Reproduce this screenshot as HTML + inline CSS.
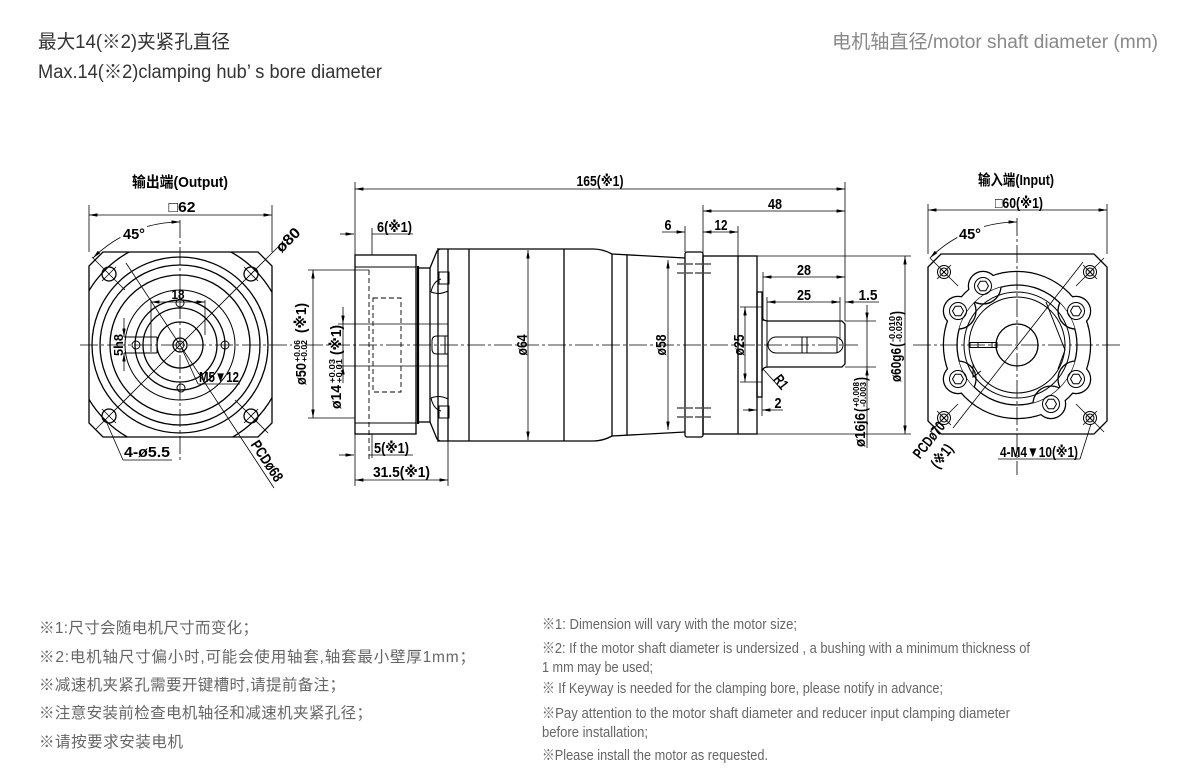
<!DOCTYPE html>
<html><head><meta charset="utf-8">
<style>
html,body{margin:0;padding:0;background:#fff;width:1181px;height:782px;overflow:hidden}
svg{display:block}
.o{fill:none;stroke:#000;stroke-width:1.3}
.t{fill:none;stroke:#000;stroke-width:1}
.d{fill:none;stroke:#000;stroke-width:0.8}
.c{fill:none;stroke:#000;stroke-width:0.8;stroke-dasharray:18 3 3 3}
.h{fill:none;stroke:#000;stroke-width:0.9;stroke-dasharray:5 3}
.l{font-family:"Liberation Sans","DejaVu Sans","Noto Sans CJK SC",sans-serif;font-weight:bold;font-size:15px;fill:#000}
.m{font-family:"Liberation Sans","DejaVu Sans","Noto Sans CJK SC",sans-serif;font-weight:bold;font-size:13px;fill:#000}
.s{font-family:"Liberation Sans",sans-serif;font-weight:bold;font-size:8px;fill:#000}
.hd{font-family:"Liberation Sans","Noto Sans CJK SC",sans-serif;font-size:19px}
.fl{font-family:"Liberation Sans","Noto Sans CJK SC",sans-serif;font-size:15.5px;fill:#666}
.fr{font-family:"Liberation Sans","Noto Sans CJK SC",sans-serif;font-size:15px;fill:#666}
</style></head><body>
<svg width="1181" height="782" viewBox="0 0 1181 782" xmlns="http://www.w3.org/2000/svg">
<defs>
<marker id="a" viewBox="0 0 10 4" refX="10" refY="2" markerWidth="9" markerHeight="3.4" markerUnits="userSpaceOnUse" orient="auto-start-reverse"><path d="M0,0L10,2L0,4z" fill="#000"/></marker>
<clipPath id="sqL"><polygon points="103,252 258,252 272,266 272,423 258,437 103,437 89,423 89,266"/></clipPath>
<clipPath id="in60"><circle cx="1017" cy="345" r="60"/></clipPath>
</defs>

<!-- HEADER -->
<text class="hd" x="38" y="48" fill="#333" textLength="192" lengthAdjust="spacingAndGlyphs">最大14(※2)夹紧孔直径</text>
<text class="hd" x="38" y="78" fill="#333" textLength="344" lengthAdjust="spacingAndGlyphs">Max.14(※2)clamping hub’ s bore diameter</text>
<text class="hd" x="832" y="48" fill="#888" textLength="326" lengthAdjust="spacingAndGlyphs">电机轴直径/motor shaft diameter (mm)</text>

<!-- ============ LEFT VIEW (OUTPUT) ============ -->
<text class="l" x="180" y="187" text-anchor="middle" textLength="96" lengthAdjust="spacingAndGlyphs">输出端(Output)</text>
<text class="l" x="182" y="212" text-anchor="middle" textLength="27" lengthAdjust="spacingAndGlyphs">□62</text>
<line class="d" x1="89" y1="215" x2="272" y2="215" marker-start="url(#a)" marker-end="url(#a)"/>
<line class="d" x1="89" y1="205" x2="89" y2="252"/>
<line class="d" x1="272" y1="205" x2="272" y2="252"/>
<path class="d" d="M93,258 A123,123 0 0 1 120.4,237.4" marker-start="url(#a)"/>
<path class="d" d="M147,226.5 A123,123 0 0 1 180,222" marker-end="url(#a)"/>
<text class="l" x="134" y="239" text-anchor="middle" textLength="22" lengthAdjust="spacingAndGlyphs">45°</text>

<polygon class="o" points="103,252 258,252 272,266 272,423 258,437 103,437 89,423 89,266"/>
<g clip-path="url(#sqL)"><circle class="o" cx="180" cy="345" r="106"/></g>
<circle class="o" cx="180" cy="345" r="88"/>
<circle class="o" cx="180" cy="345" r="80"/>
<circle class="o" cx="180" cy="345" r="70"/>
<circle class="t" cx="180" cy="345" r="55"/>
<circle class="o" cx="180" cy="345" r="45"/>
<circle class="o" cx="180" cy="345" r="37"/>
<circle class="o" cx="180" cy="345" r="23"/>
<circle class="o" cx="180" cy="345" r="7"/>
<circle class="t" cx="180" cy="345" r="4"/>
<!-- corner holes -->
<circle class="o" cx="109" cy="274" r="7"/>
<circle class="o" cx="251" cy="274" r="7"/>
<circle class="o" cx="109" cy="416" r="7"/>
<circle class="o" cx="251" cy="416" r="7"/>
<line class="d" x1="92" y1="257" x2="125" y2="290"/>
<line class="d" x1="102" y1="281" x2="116" y2="267"/>
<line class="d" x1="268" y1="433" x2="235" y2="400"/>
<line class="d" x1="244" y1="423" x2="258" y2="409"/>
<line class="d" x1="244" y1="267" x2="258" y2="281"/>
<line class="d" x1="102" y1="409" x2="116" y2="423"/>
<!-- small holes -->
<circle class="t" cx="136" cy="345" r="4"/>
<circle class="t" cx="225" cy="345" r="4"/>
<circle class="t" cx="181" cy="388" r="4"/>
<circle class="t" cx="180" cy="303" r="4"/>
<!-- 18 dim -->
<line class="d" x1="151" y1="302" x2="205" y2="302" marker-start="url(#a)" marker-end="url(#a)"/>
<line class="d" x1="151" y1="300" x2="151" y2="352"/>
<line class="d" x1="205" y1="300" x2="205" y2="335"/>
<text class="m" x="178" y="299" text-anchor="middle" textLength="13" lengthAdjust="spacingAndGlyphs">18</text>
<!-- 5h8 key -->
<line class="t" x1="124" y1="337" x2="157" y2="337"/>
<line class="t" x1="124" y1="353" x2="157" y2="353"/>
<line class="t" x1="157" y1="337" x2="157" y2="353"/>
<line class="d" x1="124" y1="318" x2="124" y2="337" marker-end="url(#a)"/>
<line class="d" x1="124" y1="371" x2="124" y2="353" marker-end="url(#a)"/>
<g transform="translate(118,345) rotate(-90)"><text class="m" x="0" y="5" text-anchor="middle" textLength="22" lengthAdjust="spacingAndGlyphs">5h8</text></g>
<!-- diag leader Ø80 -->
<line class="d" x1="283" y1="242" x2="96" y2="429"/>
<g transform="translate(288,240) rotate(-45)"><text class="l" x="0" y="5" text-anchor="middle" textLength="28" lengthAdjust="spacingAndGlyphs">ø80</text></g>
<!-- PCD leader -->
<line class="d" x1="126" y1="263" x2="274" y2="488"/>
<g transform="translate(267,461) rotate(56.7)"><text class="l" x="0" y="5" text-anchor="middle" textLength="46" lengthAdjust="spacingAndGlyphs">PCDø68</text></g>
<!-- M5 -->
<line class="d" x1="182" y1="349" x2="198" y2="384"/>
<line class="d" x1="198" y1="384" x2="240" y2="384"/>
<text class="l" x="219" y="382" text-anchor="middle" textLength="40" lengthAdjust="spacingAndGlyphs">M5▼12</text>
<!-- 4-ø5.5 -->
<line class="d" x1="106" y1="421" x2="123" y2="460"/>
<line class="d" x1="123" y1="460" x2="172" y2="460"/>
<text class="l" x="147" y="457" text-anchor="middle" textLength="46" lengthAdjust="spacingAndGlyphs">4-ø5.5</text>
<!-- centerlines -->
<line class="c" x1="80" y1="345" x2="292" y2="345"/>
<line class="c" x1="180" y1="220" x2="180" y2="462"/>

<!-- ============ MIDDLE VIEW ============ -->
<line class="d" x1="355" y1="189" x2="845" y2="189" marker-start="url(#a)" marker-end="url(#a)"/>
<text class="l" x="600" y="186" text-anchor="middle" textLength="47" lengthAdjust="spacingAndGlyphs">165(※1)</text>
<line class="d" x1="355" y1="182" x2="355" y2="486"/>
<line class="d" x1="845" y1="182" x2="845" y2="321"/>
<!-- 6(※1) -->
<line class="d" x1="340" y1="234" x2="354" y2="234" marker-end="url(#a)"/>
<line class="d" x1="372" y1="234" x2="413" y2="234"/>
<line class="d" x1="372" y1="228" x2="372" y2="255"/>
<text class="l" x="377" y="232" textLength="35" lengthAdjust="spacingAndGlyphs">6(※1)</text>
<!-- 5(※1) -->
<line class="d" x1="339" y1="455" x2="354" y2="455" marker-end="url(#a)"/>
<line class="d" x1="369" y1="455" x2="413" y2="455"/>
<line class="d" x1="372" y1="434" x2="372" y2="458"/>
<text class="l" x="374" y="453" textLength="35" lengthAdjust="spacingAndGlyphs">5(※1)</text>
<!-- 31.5 -->
<line class="d" x1="355" y1="480" x2="448" y2="480" marker-start="url(#a)" marker-end="url(#a)"/>
<line class="d" x1="448" y1="322" x2="448" y2="486"/>
<text class="l" x="373" y="477" textLength="57" lengthAdjust="spacingAndGlyphs">31.5(※1)</text>
<!-- flange -->
<rect class="o" x="355" y="255" width="61" height="179"/>
<line class="t" x1="355" y1="267" x2="416" y2="267"/>
<line class="t" x1="355" y1="423" x2="416" y2="423"/>
<rect class="h" x="373" y="298" width="28" height="94"/>
<line class="h" x1="369" y1="270" x2="369" y2="460"/>
<!-- ø50 -->
<line class="d" x1="313" y1="270" x2="313" y2="418" marker-start="url(#a)" marker-end="url(#a)"/>
<line class="d" x1="308" y1="270" x2="369" y2="270"/>
<line class="d" x1="308" y1="418" x2="355" y2="418"/>
<g transform="translate(301,345) rotate(-90)">
<text class="l" x="-40" y="5" textLength="22" lengthAdjust="spacingAndGlyphs">ø50</text>
<text class="s" x="-17" y="-1" textLength="22" lengthAdjust="spacingAndGlyphs">+0.06</text>
<text class="s" x="-17" y="6" textLength="22" lengthAdjust="spacingAndGlyphs">+0.02</text>
<text class="l" x="12" y="5" textLength="30" lengthAdjust="spacingAndGlyphs">(※1)</text>
</g>
<!-- ø14 -->
<line class="d" x1="338" y1="324" x2="448" y2="324"/>
<line class="d" x1="338" y1="366" x2="448" y2="366"/>
<line class="d" x1="343" y1="307" x2="343" y2="324" marker-end="url(#a)"/>
<line class="d" x1="343" y1="383" x2="343" y2="366" marker-end="url(#a)"/>
<line class="d" x1="343" y1="324" x2="343" y2="366"/>
<g transform="translate(336,345) rotate(-90)">
<text class="l" x="-64" y="5" textLength="24" lengthAdjust="spacingAndGlyphs">ø14</text>
<text class="s" x="-38" y="-1" textLength="24" lengthAdjust="spacingAndGlyphs">+0.03</text>
<text class="s" x="-38" y="6" textLength="24" lengthAdjust="spacingAndGlyphs">+0.01</text>
<text class="l" x="-10" y="5" textLength="30" lengthAdjust="spacingAndGlyphs">(※1)</text>
</g>
<!-- neck -->
<line x1="418" y1="266" x2="418" y2="424" stroke="#000" stroke-width="2.2"/>
<rect class="o" x="418" y="268" width="12" height="154"/>
<!-- front ring -->
<path class="o" d="M430,268 L437,251 L440,249"/>
<path class="o" d="M430,422 L437,439 L440,441"/>
<line class="o" x1="438" y1="251" x2="438" y2="439"/>
<line class="o" x1="448" y1="249" x2="448" y2="441"/>
<!-- clips -->
<rect class="t" x="439" y="272" width="10" height="12"/>
<path class="t" d="M431,292 C433,283 437,280 441,279"/>
<path class="t" d="M431,292 C436,294 442,294 448,291"/>
<rect class="t" x="439" y="406" width="10" height="12"/>
<path class="t" d="M431,398 C433,407 437,410 441,411"/>
<path class="t" d="M431,398 C436,396 442,396 448,399"/>
<path class="t" d="M448,336 H437 Q432,336 432,341 V349 Q432,354 437,354 H448"/>
<line class="t" x1="445" y1="336" x2="445" y2="354"/>
<!-- body -->
<path class="o" d="M437,249 H593 Q603,249 612,254 L685,258"/>
<path class="o" d="M437,441 H593 Q603,441 612,436 L685,432"/>
<line class="o" x1="469" y1="249" x2="469" y2="441"/>
<line class="o" x1="564" y1="249" x2="564" y2="441"/>
<line class="o" x1="612" y1="254" x2="612" y2="436"/>
<line class="o" x1="627" y1="255" x2="627" y2="435"/>
<line class="d" x1="528" y1="250" x2="528" y2="440" marker-start="url(#a)" marker-end="url(#a)"/>
<g transform="translate(522,345) rotate(-90)"><text class="l" x="0" y="5" text-anchor="middle" textLength="21" lengthAdjust="spacingAndGlyphs">ø64</text></g>
<line class="d" x1="668" y1="260" x2="668" y2="430" marker-start="url(#a)" marker-end="url(#a)"/>
<g transform="translate(661,345) rotate(-90)"><text class="l" x="0" y="5" text-anchor="middle" textLength="21" lengthAdjust="spacingAndGlyphs">ø58</text></g>
<!-- adapter plate -->
<rect class="o" x="685" y="252" width="18" height="185" rx="2"/>
<line class="t" x1="677" y1="264" x2="711" y2="264" stroke-dasharray="7 2"/>
<line class="t" x1="677" y1="273" x2="711" y2="273" stroke-dasharray="7 2"/>
<line class="t" x1="677" y1="408" x2="711" y2="408" stroke-dasharray="7 2"/>
<line class="t" x1="677" y1="417" x2="711" y2="417" stroke-dasharray="7 2"/>
<!-- adapter -->
<rect class="o" x="703" y="256" width="54" height="178"/>
<line class="o" x1="738" y1="256" x2="738" y2="434"/>
<rect class="o" x="757" y="292" width="5" height="105"/>
<line class="d" x1="740" y1="307" x2="762" y2="307"/>
<line class="d" x1="740" y1="382" x2="762" y2="382"/>
<line class="d" x1="745" y1="307" x2="745" y2="382" marker-start="url(#a)" marker-end="url(#a)"/>
<g transform="translate(739,345) rotate(-90)"><text class="l" x="0" y="5" text-anchor="middle" textLength="21" lengthAdjust="spacingAndGlyphs">ø25</text></g>
<!-- shaft -->
<path class="o" d="M762,317 Q763,321 768,321 H842 L845,324 V364 L842,367 H768 Q763,367 762,371"/>
<line class="t" x1="767" y1="321" x2="767" y2="367"/>
<rect class="t" x="768" y="337" width="75" height="16" rx="8"/>
<line class="t" x1="802" y1="337" x2="802" y2="353"/>
<line class="t" x1="807" y1="337" x2="807" y2="353"/>
<line class="t" x1="837" y1="338" x2="837" y2="352"/>
<!-- dims right part -->
<line class="d" x1="703" y1="211" x2="845" y2="211" marker-start="url(#a)" marker-end="url(#a)"/>
<line class="d" x1="703" y1="205" x2="703" y2="256"/>
<text class="l" x="775" y="209" text-anchor="middle" textLength="14" lengthAdjust="spacingAndGlyphs">48</text>
<line class="d" x1="662" y1="232" x2="685" y2="232" marker-end="url(#a)"/>
<line class="d" x1="685" y1="226" x2="685" y2="252"/>
<text class="l" x="668" y="230" text-anchor="middle" textLength="7" lengthAdjust="spacingAndGlyphs">6</text>
<line class="d" x1="703" y1="232" x2="738" y2="232" marker-start="url(#a)" marker-end="url(#a)"/>
<line class="d" x1="738" y1="226" x2="738" y2="256"/>
<text class="l" x="721" y="230" text-anchor="middle" textLength="13" lengthAdjust="spacingAndGlyphs">12</text>
<line class="d" x1="763" y1="277" x2="845" y2="277" marker-start="url(#a)" marker-end="url(#a)"/>
<line class="d" x1="763" y1="272" x2="763" y2="321"/>
<text class="l" x="804" y="275" text-anchor="middle" textLength="14" lengthAdjust="spacingAndGlyphs">28</text>
<line class="d" x1="767" y1="302" x2="840" y2="302" marker-start="url(#a)" marker-end="url(#a)"/>
<line class="d" x1="767" y1="297" x2="767" y2="321"/>
<line class="d" x1="840" y1="297" x2="840" y2="340"/>
<text class="l" x="804" y="300" text-anchor="middle" textLength="14" lengthAdjust="spacingAndGlyphs">25</text>
<line class="d" x1="879" y1="302" x2="845" y2="302" marker-end="url(#a)"/>
<text class="l" x="868" y="300" text-anchor="middle" textLength="19" lengthAdjust="spacingAndGlyphs">1.5</text>
<line class="d" x1="763" y1="369" x2="782" y2="390"/>
<g transform="translate(781,382) rotate(52)"><text class="l" x="0" y="5" text-anchor="middle" textLength="14" lengthAdjust="spacingAndGlyphs">R1</text></g>
<line class="d" x1="743" y1="410" x2="757" y2="410" marker-end="url(#a)"/>
<line class="d" x1="783" y1="410" x2="762" y2="410" marker-end="url(#a)"/>
<line class="d" x1="757" y1="397" x2="757" y2="416"/>
<line class="d" x1="762" y1="397" x2="762" y2="416"/>
<text class="l" x="778" y="408" text-anchor="middle" textLength="7" lengthAdjust="spacingAndGlyphs">2</text>
<!-- ø16j6 -->
<line class="d" x1="845" y1="321" x2="876" y2="321"/>
<line class="d" x1="845" y1="367" x2="876" y2="367"/>
<line class="d" x1="867" y1="305" x2="867" y2="321" marker-end="url(#a)"/>
<line class="d" x1="867" y1="448" x2="867" y2="367" marker-end="url(#a)"/>
<line class="d" x1="867" y1="321" x2="867" y2="367"/>
<g transform="translate(860,412) rotate(-90)">
<text class="l" x="-35" y="5" textLength="34" lengthAdjust="spacingAndGlyphs">ø16j6</text>
<text class="l" x="0" y="6" textLength="4" lengthAdjust="spacingAndGlyphs" style="font-size:17px">(</text>
<text class="s" x="5" y="-1" textLength="25" lengthAdjust="spacingAndGlyphs">+0.008</text>
<text class="s" x="5" y="6" textLength="25" lengthAdjust="spacingAndGlyphs">-0.003</text>
<text class="l" x="31" y="6" textLength="4" lengthAdjust="spacingAndGlyphs" style="font-size:17px">)</text>
</g>
<!-- ø60g6 -->
<line class="d" x1="757" y1="256" x2="911" y2="256"/>
<line class="d" x1="757" y1="434" x2="911" y2="434"/>
<line class="d" x1="905" y1="256" x2="905" y2="434" marker-start="url(#a)" marker-end="url(#a)"/>
<g transform="translate(896,345) rotate(-90)">
<text class="l" x="-37" y="5" textLength="34" lengthAdjust="spacingAndGlyphs">ø60g6</text>
<text class="l" x="-2" y="6" textLength="4" lengthAdjust="spacingAndGlyphs" style="font-size:17px">(</text>
<text class="s" x="3" y="-1" textLength="26" lengthAdjust="spacingAndGlyphs">-0.010</text>
<text class="s" x="3" y="6" textLength="26" lengthAdjust="spacingAndGlyphs">-0.029</text>
<text class="l" x="30" y="6" textLength="4" lengthAdjust="spacingAndGlyphs" style="font-size:17px">)</text>
</g>
<line class="c" x1="305" y1="345" x2="858" y2="345"/>

<!-- ============ RIGHT VIEW (INPUT) ============ -->
<text class="l" x="1016" y="185" text-anchor="middle" textLength="76" lengthAdjust="spacingAndGlyphs">输入端(Input)</text>
<text class="l" x="1019" y="208" text-anchor="middle" textLength="48" lengthAdjust="spacingAndGlyphs">□60(※1)</text>
<line class="d" x1="928" y1="210" x2="1107" y2="210" marker-start="url(#a)" marker-end="url(#a)"/>
<line class="d" x1="928" y1="204" x2="928" y2="254"/>
<line class="d" x1="1107" y1="204" x2="1107" y2="254"/>
<path class="d" d="M930,258 A123,123 0 0 1 957.4,237.4" marker-start="url(#a)"/>
<path class="d" d="M984,226.5 A123,123 0 0 1 1017,222" marker-end="url(#a)"/>
<text class="l" x="970" y="239" text-anchor="middle" textLength="22" lengthAdjust="spacingAndGlyphs">45°</text>

<polygon class="o" points="941,254 1094,254 1107,267 1107,421 1094,434 941,434 928,421 928,267"/>
<!-- outer lobed contour -->
<g stroke="#000" stroke-width="2.5" fill="none">
<circle cx="1017" cy="345" r="73"/>
<circle cx="983" cy="286" r="14"/><circle cx="958" cy="311" r="14"/><circle cx="958" cy="379" r="14"/>
<circle cx="1051" cy="404" r="14"/><circle cx="1076" cy="311" r="14"/><circle cx="1076" cy="379" r="14"/>
</g>
<g fill="#fff">
<circle cx="1017" cy="345" r="73"/>
<circle cx="983" cy="286" r="14"/><circle cx="958" cy="311" r="14"/><circle cx="958" cy="379" r="14"/>
<circle cx="1051" cy="404" r="14"/><circle cx="1076" cy="311" r="14"/><circle cx="1076" cy="379" r="14"/>
</g>
<circle class="o" cx="1017" cy="345" r="60"/>
<g clip-path="url(#in60)" fill="#fff" stroke="#000" stroke-width="1.3">
<circle cx="983" cy="286" r="18"/><circle cx="958" cy="311" r="18"/><circle cx="958" cy="379" r="18"/>
<circle cx="1051" cy="404" r="18"/><circle cx="1076" cy="311" r="18"/><circle cx="1076" cy="379" r="18"/>
</g>
<circle class="t" cx="1017" cy="345" r="53"/>
<circle class="t" cx="1017" cy="345" r="48"/>
<circle class="o" cx="1017" cy="345" r="21"/>
<!-- bosses -->
<g class="t">
<circle cx="983" cy="286" r="8.5"/><circle cx="958" cy="311" r="8.5"/><circle cx="958" cy="379" r="8.5"/>
<circle cx="1051" cy="404" r="8.5"/><circle cx="1076" cy="311" r="8.5"/><circle cx="1076" cy="379" r="8.5"/>
<polygon points="988.5,286 985.75,290.76 980.25,290.76 977.5,286 980.25,281.24 985.75,281.24"/>
<polygon points="963.5,311 960.75,315.76 955.25,315.76 952.5,311 955.25,306.24 960.75,306.24"/>
<polygon points="963.5,379 960.75,383.76 955.25,383.76 952.5,379 955.25,374.24 960.75,374.24"/>
<polygon points="1056.5,404 1053.75,408.76 1048.25,408.76 1045.5,404 1048.25,399.24 1053.75,399.24"/>
<polygon points="1081.5,311 1078.75,315.76 1073.25,315.76 1070.5,311 1073.25,306.24 1078.75,306.24"/>
<polygon points="1081.5,379 1078.75,383.76 1073.25,383.76 1070.5,379 1073.25,374.24 1078.75,374.24"/>
</g>
<!-- keyway + cam -->
<rect class="t" x="970" y="342.5" width="27" height="5"/>
<line class="t" x1="978" y1="342.5" x2="978" y2="347.5"/>
<line class="t" x1="992" y1="342.5" x2="992" y2="347.5"/>
<path class="t" d="M1046,302 L1065,350 L1058,369"/>
<path class="t" d="M973,364 V377 L981,371"/>
<!-- corner holes -->
<g class="t">
<circle cx="944" cy="272" r="6.5"/><circle cx="944" cy="272" r="4"/>
<circle cx="1090" cy="272" r="6.5"/><circle cx="1090" cy="272" r="4"/>
<circle cx="944" cy="418" r="6.5"/><circle cx="944" cy="418" r="4"/>
<circle cx="1090" cy="418" r="6.5"/><circle cx="1090" cy="418" r="4"/>
<path d="M941,269L947,275M947,269L941,275M1087,269L1093,275M1093,269L1087,275M941,415L947,421M947,415L941,421M1087,415L1093,421M1093,415L1087,421"/>
</g>
<g class="d">
<line x1="930" y1="258" x2="958" y2="286"/><line x1="937" y1="279" x2="951" y2="265"/>
<line x1="1104" y1="258" x2="1076" y2="286"/><line x1="1083" y1="265" x2="1097" y2="279"/>
<line x1="930" y1="432" x2="958" y2="404"/><line x1="937" y1="411" x2="951" y2="425"/>
<line x1="1104" y1="432" x2="1076" y2="404"/><line x1="1083" y1="425" x2="1097" y2="411"/>
</g>
<!-- PCD leader -->
<line class="d" x1="1083" y1="262" x2="953" y2="428"/>
<g transform="translate(929,440) rotate(-52)"><text class="l" x="0" y="5" text-anchor="middle" textLength="42" lengthAdjust="spacingAndGlyphs">PCDø70</text></g>
<g transform="translate(942,456) rotate(-52)"><text class="l" x="0" y="5" text-anchor="middle" textLength="26" lengthAdjust="spacingAndGlyphs">(※1)</text></g>
<!-- 4-M4 -->
<line class="d" x1="1091" y1="424" x2="1080" y2="459"/>
<line class="d" x1="998" y1="459" x2="1080" y2="459"/>
<text class="l" x="1039" y="457" text-anchor="middle" textLength="78" lengthAdjust="spacingAndGlyphs">4-M4▼10(※1)</text>
<!-- centerlines -->
<line class="c" x1="913" y1="345" x2="1121" y2="345"/>
<line class="c" x1="1017" y1="218" x2="1017" y2="475"/>

<!-- FOOTER LEFT -->
<text class="fl" x="39" y="633" textLength="219" lengthAdjust="spacing">※1:尺寸会随电机尺寸而变化；</text>
<text class="fl" x="39" y="662" textLength="436" lengthAdjust="spacing">※2:电机轴尺寸偏小时,可能会使用轴套,轴套最小壁厚1mm；</text>
<text class="fl" x="39" y="690" textLength="306" lengthAdjust="spacing">※减速机夹紧孔需要开键槽时,请提前备注；</text>
<text class="fl" x="39" y="718" textLength="333" lengthAdjust="spacing">※注意安装前检查电机轴径和减速机夹紧孔径；</text>
<text class="fl" x="39" y="747" textLength="144" lengthAdjust="spacing">※请按要求安装电机</text>

<!-- FOOTER RIGHT -->
<text class="fr" x="542" y="629" textLength="255" lengthAdjust="spacingAndGlyphs">※1: Dimension will vary with the motor size;</text>
<text class="fr" x="542" y="653" textLength="488" lengthAdjust="spacingAndGlyphs">※2: If the motor shaft diameter is undersized , a bushing with a minimum thickness of</text>
<text class="fr" x="542" y="672" textLength="111" lengthAdjust="spacingAndGlyphs">1 mm may be used;</text>
<text class="fr" x="542" y="693" textLength="401" lengthAdjust="spacingAndGlyphs">※ If Keyway is needed for the clamping bore, please notify in advance;</text>
<text class="fr" x="542" y="718" textLength="468" lengthAdjust="spacingAndGlyphs">※Pay attention to the motor shaft diameter and reducer input clamping diameter</text>
<text class="fr" x="542" y="737" textLength="106" lengthAdjust="spacingAndGlyphs">before installation;</text>
<text class="fr" x="542" y="760" textLength="226" lengthAdjust="spacingAndGlyphs">※Please install the motor as requested.</text>
</svg>
</body></html>
